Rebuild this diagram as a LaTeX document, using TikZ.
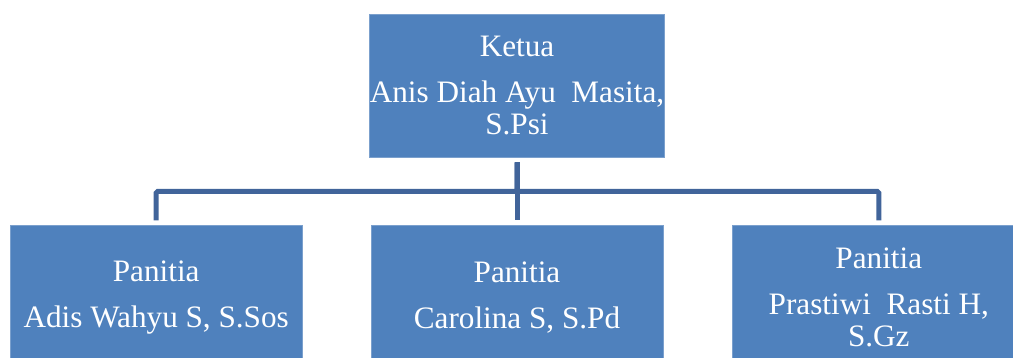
\documentclass[tikz,border=0pt]{standalone}
\usepackage{fontspec}
\setmainfont{Liberation Serif}
\usepackage{xcolor}
\usetikzlibrary{positioning}

\definecolor{boxblue}{HTML}{4F81BD}
\definecolor{lineblue}{HTML}{41649A}

\begin{document}
\begin{tikzpicture}[x=1pt,y=-1pt]
            \tikzstyle{block} = [draw=boxblue!75!white, line width=0.8pt, fill=boxblue, rectangle, minimum width=292pt, minimum height=143pt, inner sep=0pt, align=center, text=white, font=\fontsize{31.2}{32}\selectfont]
            \tikzstyle{conn} = [draw=lineblue, line width=5pt, rounded corners=1.5pt]
            \clip (0,0) rectangle (1013,358);
            \node [block] (ketua) at (517,85.5) {Ketua\\[14pt]Anis Diah Ayu\ \ Masita,\\S.Psi};
            \node [block, below = 68pt of ketua] (panitia2) {Panitia\\[14pt]Carolina S, S.Pd};
            \node [block, left = 68pt of panitia2] (panitia1) {Panitia\\[14pt]Adis Wahyu S, S.Sos};
            \node [block, right = 69pt of panitia2] (panitia3) {Panitia\\[14pt]Prastiwi\ \ Rasti H,\\S.Gz};

            \draw [conn] ([yshift=-5pt]ketua.south) -- ++(0,29) -| ([yshift=5pt]panitia1.north);
            \draw [conn] ([yshift=-5pt]ketua.south) -- ([yshift=5pt]panitia2.north);
            \draw [conn] ([yshift=-5pt]ketua.south) -- ++(0,29) -| ([yshift=5pt]panitia3.north);
            \end{tikzpicture}
\end{document}
